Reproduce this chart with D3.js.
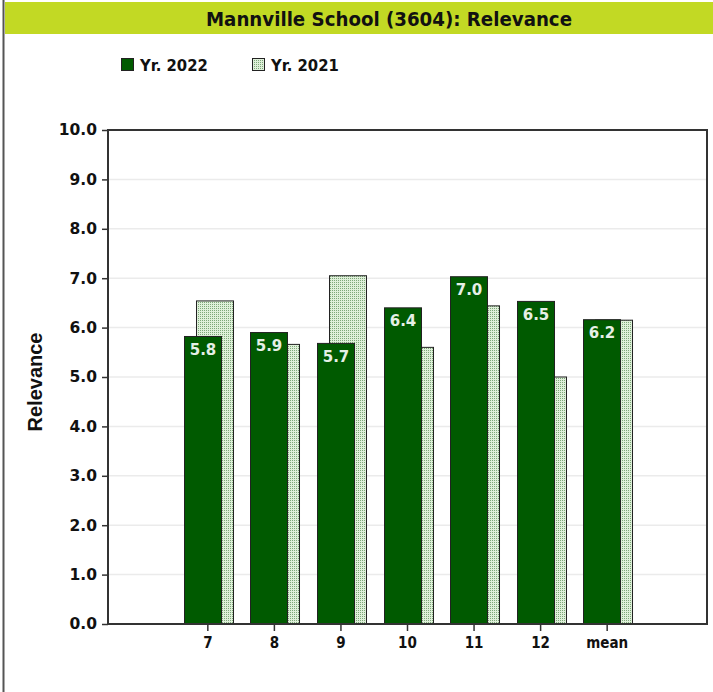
<!DOCTYPE html>
<html><head><meta charset="utf-8">
<script src="https://cdn.jsdelivr.net/npm/d3@7"></script>
<style>html,body{margin:0;padding:0;background:#fff;}svg{display:block;}</style>
</head><body>
<script>
const categories = ["7","8","9","10","11","12","mean"];
const values2022 = [5.82, 5.90, 5.68, 6.40, 7.03, 6.53, 6.16];
const values2021 = [6.54, 5.66, 7.05, 5.60, 6.44, 5.00, 6.15];
const yTicks = [0,1,2,3,4,5,6,7,8,9,10];
const seriesNames = ["Yr. 2022", "Yr. 2021"];
const titleText = "Mannville School (3604): Relevance";
const yTitle = "Relevance";

const W = 713, H = 692;
const m = {left:108, right:6, top:130, bottom:68};
const svg = d3.select("body").append("svg").attr("width", W).attr("height", H);

const defs = svg.append("defs");
const pat = defs.append("pattern").attr("id","dots").attr("patternUnits","userSpaceOnUse")
  .attr("width",2).attr("height",2);
pat.append("rect").attr("width",2).attr("height",2).attr("fill","#dff0da");
pat.append("rect").attr("width",1).attr("height",1).attr("fill","#7ea879");

// left border
svg.append("line").attr("x1",3.5).attr("x2",3.5).attr("y1",0).attr("y2",H)
  .attr("stroke","#555").attr("stroke-width",2);
// title bar
svg.append("rect").attr("x",5).attr("y",2).attr("width",W-5).attr("height",32).attr("fill","#c2d924");
svg.append("text").attr("x",389).attr("y",26).attr("text-anchor","middle")
  .attr("font-family","'DejaVu Sans Condensed','DejaVu Sans'").attr("font-stretch","condensed")
  .attr("font-weight","bold").attr("font-size",19.5).attr("fill","#111")
  .attr("textLength",366).attr("lengthAdjust","spacingAndGlyphs").text(titleText);

// legend
const legX = [121, 252];
seriesNames.forEach((n,i)=>{
  svg.append("rect").attr("x",legX[i]+0.5).attr("y",58.5).attr("width",12).attr("height",12)
    .attr("fill", i===0 ? "#005a00" : "url(#dots)").attr("stroke","#222").attr("stroke-width",1);
  svg.append("text").attr("x",legX[i]+19).attr("y",71)
    .attr("font-family","'DejaVu Sans Condensed','DejaVu Sans'").attr("font-stretch","condensed")
    .attr("font-weight","bold").attr("font-size",16.5).attr("fill","#111").text(n);
});

const x = d3.scaleBand().domain(categories).range([m.left, W-m.right]).paddingInner(0).paddingOuter(1);
const y = d3.scaleLinear().domain([0,10]).range([H-m.bottom, m.top]);
const step = x.step();

// grid
svg.append("g").selectAll("line").data(yTicks.filter(t=>t>0&&t<10)).join("line")
  .attr("x1",m.left).attr("x2",W-m.right).attr("y1",d=>y(d)).attr("y2",d=>y(d))
  .attr("stroke","#ebebeb").attr("stroke-width",1.5);

// bars 2021 (behind)
const c = d => x(d) + step/2;
const bw = step*0.556;
svg.append("g").selectAll("rect").data(categories).join("rect")
  .attr("x",(d)=>Math.round(c(d) - step*0.18)+0.5)
  .attr("y",(d,i)=>y(values2021[i]))
  .attr("width",bw).attr("height",(d,i)=>y(0)-y(values2021[i]))
  .attr("fill","url(#dots)").attr("stroke","#222").attr("stroke-width",1);
// bars 2022
svg.append("g").selectAll("rect").data(categories).join("rect")
  .attr("x",(d)=>Math.round(c(d) - step*0.36)+0.5)
  .attr("y",(d,i)=>y(values2022[i]))
  .attr("width",bw).attr("height",(d,i)=>y(0)-y(values2022[i]))
  .attr("fill","#005a00").attr("stroke","#222").attr("stroke-width",1);
// labels
svg.append("g").selectAll("text").data(categories).join("text")
  .attr("x",(d)=>Math.round(c(d) - step*0.36)+0.5+bw/2)
  .attr("y",(d,i)=>y(values2022[i])+18.5)
  .attr("text-anchor","middle").attr("font-family","'DejaVu Sans'").attr("font-weight","bold")
  .attr("font-size",15).attr("fill","#e6f0e6")
  .text((d,i)=>d3.format(".1f")(values2022[i]));

// frame
svg.append("rect").attr("x",m.left).attr("y",m.top).attr("width",W-m.right-m.left).attr("height",H-m.bottom-m.top)
  .attr("fill","none").attr("stroke","#333").attr("stroke-width",2);

// y axis
const yAxis = svg.append("g").attr("transform",`translate(${m.left},0)`)
  .call(d3.axisLeft(y).tickValues(yTicks).tickFormat(d3.format(".1f")).tickSize(6).tickPadding(5));
yAxis.select(".domain").remove();
yAxis.selectAll("line").attr("stroke","#333").attr("stroke-width",1.5);
yAxis.selectAll("text").attr("font-family","'DejaVu Sans'").attr("font-weight","bold")
  .attr("font-size",15.5).attr("fill","#111");

// x axis
const xAxis = svg.append("g").attr("transform",`translate(0,${H-m.bottom})`)
  .call(d3.axisBottom(x).tickSize(7).tickPadding(6));
xAxis.select(".domain").remove();
xAxis.selectAll("line").attr("stroke","#333").attr("stroke-width",1.5);
xAxis.selectAll("text").attr("font-family","'DejaVu Sans Condensed','DejaVu Sans'").attr("font-stretch","condensed")
  .attr("font-weight","bold").attr("font-size",15).attr("fill","#111");

// y title
svg.append("text").attr("transform","translate(42,382) rotate(-90)").attr("text-anchor","middle")
  .attr("font-family","'Liberation Sans', Arial").attr("font-weight","bold").attr("font-size",20)
  .attr("fill","#111").text(yTitle);
</script>
</body></html>
